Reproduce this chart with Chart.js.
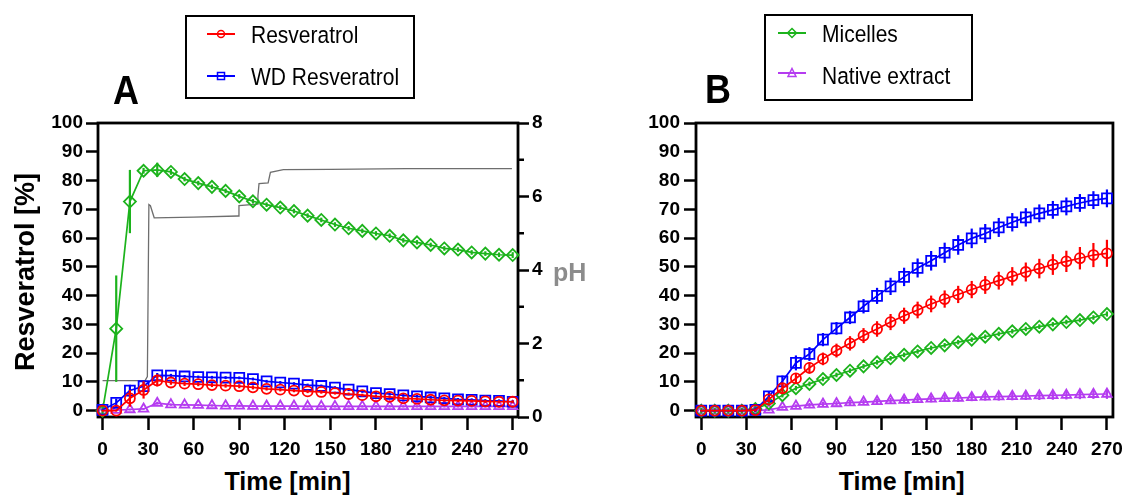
<!DOCTYPE html>
<html>
<head>
<meta charset="utf-8">
<script src="https://cdn.jsdelivr.net/npm/chart.js@4.4.1/dist/chart.umd.min.js"></script>
<style>
  body { margin: 0; background: #fff; width: 1131px; height: 497px; position: relative; overflow: hidden;
         font-family: "Liberation Sans", Arial, sans-serif; color: #000; }
  .abs { position: absolute; white-space: nowrap; }
  .legend { position: absolute; border: 2.5px solid #000; box-sizing: border-box; }
  .entry { position: absolute; white-space: nowrap; font-size: 21px; line-height: 24px; transform: scaleY(1.17); }
  .letter { position: absolute; font-size: 36px; font-weight: bold; line-height: 40px; transform: scaleY(1.15); }
  .xtitle { position: absolute; width: 200px; text-align: center; font-size: 25px; font-weight: bold; line-height: 30px; }
  canvas { position: absolute; }
</style>
</head>
<body>

<canvas id="chartA" width="570" height="360" style="left:0;top:100px"></canvas>
<canvas id="chartB" width="531" height="360" style="left:600px;top:100px"></canvas>

<div class="letter" style="left:113px;top:70px">A</div>
<div class="letter" style="left:705px;top:69px">B</div>

<div class="legend" style="left:185px;top:15px;width:230px;height:84px"></div>
<svg class="abs" style="left:207px;top:28px" width="28" height="12">
  <line x1="0" y1="6" x2="28" y2="6" stroke="#ff0000" stroke-width="2"/>
  <circle cx="14" cy="6" r="3.5" fill="none" stroke="#ff0000" stroke-width="1.5"/>
</svg>
<div class="entry" style="left:251px;top:23px">Resveratrol</div>
<svg class="abs" style="left:207px;top:70px" width="28" height="12">
  <line x1="0" y1="6" x2="28" y2="6" stroke="#0000ff" stroke-width="2"/>
  <rect x="10.5" y="2.5" width="7" height="7" fill="none" stroke="#0000ff" stroke-width="1.5"/>
</svg>
<div class="entry" style="left:251px;top:64.5px">WD Resveratrol</div>

<div class="legend" style="left:764px;top:14px;width:209px;height:87px"></div>
<svg class="abs" style="left:778px;top:27px" width="28" height="12">
  <line x1="0" y1="6" x2="28" y2="6" stroke="#1cb31c" stroke-width="2"/>
  <polygon points="14,1.5 18.5,6 14,10.5 9.5,6" fill="none" stroke="#1cb31c" stroke-width="1.5"/>
</svg>
<div class="entry" style="left:822px;top:22px">Micelles</div>
<svg class="abs" style="left:778px;top:67px" width="28" height="12">
  <line x1="0" y1="6" x2="28" y2="6" stroke="#b53cf0" stroke-width="2"/>
  <polygon points="14,1.5 18,9.5 10,9.5" fill="none" stroke="#b53cf0" stroke-width="1.5"/>
</svg>
<div class="entry" style="left:822px;top:63.5px">Native extract</div>

<div class="abs" style="left:-105px;top:256.5px;width:260px;height:30px;line-height:30px;text-align:center;font-size:27px;font-weight:bold;transform:rotate(-90deg)">Resveratrol [%]</div>
<div class="abs" style="left:553px;top:257px;font-size:25px;font-weight:bold;line-height:30px;color:#8c8c8c">pH</div>
<div class="xtitle" style="left:187.5px;top:465.5px">Time [min]</div>
<div class="xtitle" style="left:801.7px;top:465.5px">Time [min]</div>

<script>
// sampling times (min)
const timeMin = [0, 9, 18, 27, 36, 45, 54, 63, 72, 81, 90, 99, 108, 117, 126, 135, 144, 153, 162, 171, 180, 189, 198, 207, 216, 225, 234, 243, 252, 261, 270];

// tick labels
const xTicks = [0, 30, 60, 90, 120, 150, 180, 210, 240, 270];
const yTicks = [0, 10, 20, 30, 40, 50, 60, 70, 80, 90, 100];
const phTicks = [0, 2, 4, 6, 8];
const phMinorTicks = [1, 3, 5, 7];

// panel A - % resveratrol
const resA = [0, 0, 4.3, 7.2, 10.5, 9.8, 9.4, 9.2, 8.9, 8.7, 8.5, 8.1, 7.6, 7.3, 7.0, 6.7, 6.5, 6.1, 5.8, 5.4, 5.0, 4.8, 4.3, 4.1, 3.8, 3.6, 3.5, 3.4, 3.2, 3.1, 3.1];
const resAErr = [0.3, 0.3, 2.9, 3.0, 2.1, 0.8, 0.8, 0.7, 0.7, 0.7, 0.7, 0.7, 0.6, 0.6, 0.6, 0.6, 0.6, 0.5, 0.5, 0.5, 0.5, 0.5, 0.5, 0.5, 0.5, 0.5, 0.5, 0.5, 0.5, 0.5, 0.5];
const wdA = [0.3, 2.7, 7.0, 8.5, 12.3, 12.2, 11.9, 11.7, 11.6, 11.5, 11.4, 11.0, 10.2, 9.8, 9.4, 8.9, 8.6, 8.0, 7.3, 6.7, 6.1, 5.8, 5.3, 5.0, 4.6, 4.3, 3.9, 3.8, 3.5, 3.4, 3.1];
const wdAErr = [0.3, 1.5, 2.0, 1.5, 0.8, 0.6, 0.5, 0.5, 0.5, 0.5, 0.5, 0.5, 0.5, 0.5, 0.5, 0.5, 0.5, 0.5, 0.5, 0.5, 0.5, 0.5, 0.5, 0.5, 0.5, 0.5, 0.5, 0.5, 0.5, 0.5, 0.5];
const micA = [0, 28.5, 72.7, 83.4, 83.7, 83.0, 80.5, 79.1, 77.8, 76.4, 74.5, 72.8, 71.6, 70.6, 69.4, 67.8, 66.3, 64.7, 63.4, 62.5, 61.6, 60.8, 59.2, 58.5, 57.6, 56.4, 56.0, 55.0, 54.6, 54.2, 54.1];
const micAErr = [2.0, 18.5, 11.0, 1.0, 2.5, 1.0, 0.8, 0.8, 0.8, 0.8, 0.8, 0.8, 0.8, 0.8, 0.8, 0.8, 0.8, 0.8, 0.8, 0.8, 0.8, 0.8, 0.8, 0.8, 0.8, 0.8, 0.8, 0.8, 0.8, 0.8, 1.0];
const natA = [0, 0.2, 0.4, 0.6, 2.6, 2.1, 2.0, 1.9, 1.8, 1.7, 1.7, 1.6, 1.6, 1.6, 1.6, 1.5, 1.5, 1.5, 1.5, 1.5, 1.5, 1.5, 1.5, 1.5, 1.5, 1.5, 1.5, 1.5, 1.5, 1.5, 1.5];
const natAErr = [0.2, 0.2, 0.3, 0.3, 0.5, 0.4, 0.4, 0.4, 0.4, 0.4, 0.4, 0.4, 0.4, 0.4, 0.4, 0.4, 0.4, 0.4, 0.4, 0.4, 0.4, 0.4, 0.4, 0.4, 0.4, 0.4, 0.4, 0.4, 0.4, 0.4, 0.4];

// panel A - pH trace
const phTime = [0, 28, 29.5, 30.5, 31.5, 34, 60, 89.3, 89.8, 102, 102.3, 103, 109, 110.5, 119, 150, 200, 269.5];
const phValue = [0.99, 0.99, 1.1, 5.78, 5.75, 5.42, 5.44, 5.47, 5.75, 5.79, 6.02, 6.35, 6.37, 6.66, 6.73, 6.74, 6.76, 6.76];

// panel B - % resveratrol
const resB = [0, 0, 0, 0, 0.2, 3.9, 7.8, 11.2, 14.9, 18.0, 20.9, 23.4, 26.1, 28.4, 30.8, 33.0, 35.0, 37.1, 38.8, 40.4, 42.1, 43.7, 45.2, 46.7, 48.2, 49.4, 50.8, 51.9, 53.0, 54.1, 54.7];
const resBErr = [0.3, 0.3, 0.3, 0.3, 0.5, 1.0, 1.5, 1.8, 2.0, 2.2, 2.4, 2.5, 2.6, 2.7, 2.8, 2.8, 2.9, 2.9, 3.0, 3.0, 3.0, 3.1, 3.1, 3.2, 3.3, 3.4, 3.6, 3.7, 3.9, 4.2, 4.7];
const wdB = [0, 0, 0, 0, 0.3, 5.0, 10.2, 16.6, 19.7, 24.7, 28.6, 32.4, 36.3, 39.9, 43.2, 46.5, 49.6, 52.1, 54.9, 57.6, 59.9, 61.6, 63.7, 65.5, 67.2, 68.6, 69.8, 71.0, 72.2, 73.2, 73.8];
const wdBErr = [0.3, 0.3, 0.3, 0.3, 0.8, 1.5, 2.0, 2.6, 2.4, 2.3, 2.2, 2.3, 2.5, 2.8, 3.0, 3.2, 3.3, 3.4, 3.5, 3.4, 3.4, 3.3, 3.3, 3.2, 3.2, 3.1, 3.1, 3.1, 3.1, 3.1, 3.1];
const micB = [0, 0, 0, 0, 0.6, 2.5, 5.4, 7.8, 9.3, 11.0, 12.4, 13.9, 15.4, 16.8, 18.2, 19.4, 20.6, 21.8, 22.7, 23.8, 24.7, 25.7, 26.7, 27.6, 28.4, 29.2, 30.0, 30.8, 31.5, 32.4, 33.6];
const micBErr = [1.0, 1.0, 1.0, 1.0, 1.0, 0.8, 0.8, 0.8, 0.8, 0.8, 0.8, 0.8, 0.8, 0.8, 0.8, 0.8, 0.8, 0.8, 0.8, 0.8, 0.8, 0.8, 0.8, 0.8, 0.8, 0.8, 0.8, 0.8, 0.8, 0.8, 0.9];
const natB = [0, 0, 0, 0, 0.1, 0.3, 1.2, 1.6, 2.0, 2.3, 2.5, 2.8, 3.0, 3.2, 3.5, 3.7, 3.9, 4.1, 4.3, 4.4, 4.6, 4.8, 4.9, 5.0, 5.1, 5.2, 5.3, 5.4, 5.6, 5.7, 5.8];
const natBErr = [0.2, 0.2, 0.2, 0.2, 0.3, 0.4, 0.5, 0.6, 0.7, 0.8, 0.8, 0.9, 0.9, 1.0, 1.0, 1.1, 1.1, 1.2, 1.2, 1.3, 1.3, 1.3, 1.4, 1.4, 1.4, 1.5, 1.5, 1.5, 1.6, 1.6, 1.7];

const RED = "#ff0000";
const BLUE = "#0000ff";
const GREEN = "#1cb31c";
const PURPLE = "#b53cf0";
const FONT = "'Liberation Sans', Arial, sans-serif";

function series(label, values, errors, color, style, radius) {
  return {
    label: label,
    data: timeMin.map((t, i) => ({ x: t, y: values[i] })),
    errors: errors,
    borderColor: color,
    backgroundColor: "transparent",
    borderWidth: 1.7,
    pointStyle: style,
    pointRadius: radius,
    pointBorderWidth: 1.8,
    pointBorderColor: color,
    pointBackgroundColor: "transparent",
    tension: 0,
    clip: false,
    yAxisID: "y",
  };
}

// vertical error bars, drawn through the value scale
const errorBars = {
  id: "errorBars",
  afterDatasetDraw(chart, args) {
    const ds = chart.data.datasets[args.index];
    if (!ds.errors) return;
    const ctx = chart.ctx;
    const yScale = chart.scales[ds.yAxisID];
    ctx.save();
    ctx.strokeStyle = ds.borderColor;
    ctx.lineWidth = 2.2;
    args.meta.data.forEach((pt, i) => {
      const v = ds.data[i].y;
      const e = ds.errors[i];
      ctx.beginPath();
      ctx.moveTo(pt.x, yScale.getPixelForValue(v - e));
      ctx.lineTo(pt.x, yScale.getPixelForValue(v + e));
      ctx.stroke();
    });
    ctx.restore();
  },
};

// box round the plot area
const frame = {
  id: "frame",
  beforeDatasetsDraw(chart) {
    const { ctx, chartArea: a } = chart;
    ctx.save();
    ctx.strokeStyle = "#000";
    ctx.lineWidth = 2.8;
    ctx.strokeRect(a.left, a.top, a.right - a.left, a.bottom - a.top);
    ctx.restore();
  },
};

// short unlabelled ticks on the pH axis
const phMinor = {
  id: "phMinor",
  afterDraw(chart) {
    const s = chart.scales.yPh;
    if (!s) return;
    const ctx = chart.ctx;
    ctx.save();
    ctx.strokeStyle = "#000";
    ctx.lineWidth = 2.5;
    phMinorTicks.forEach((v) => {
      const y = s.getPixelForValue(v);
      ctx.beginPath();
      ctx.moveTo(s.left, y);
      ctx.lineTo(s.left + 6, y);
      ctx.stroke();
    });
    ctx.restore();
  },
};

const tickFont = { family: FONT, size: 19, weight: "bold" };

function gridOpts(len) {
  return { drawOnChartArea: false, drawTicks: true, tickLength: len, tickWidth: 2.5, tickColor: "#000" };
}

function xScale(min, max) {
  return {
    type: "linear",
    min: min,
    max: max,
    afterBuildTicks: (s) => { s.ticks = xTicks.map((v) => ({ value: v })); },
    afterFit: (s) => { s.height = 43; },
    grid: gridOpts(13),
    border: { display: false },
    ticks: { font: tickFont, color: "#000", padding: 8, maxRotation: 0, autoSkip: false },
  };
}

function yScale(width, pad) {
  return {
    min: -2.2,
    max: 100,
    afterBuildTicks: (s) => { s.ticks = yTicks.map((v) => ({ value: v })); },
    afterFit: (s) => { s.width = width; },
    grid: gridOpts(12),
    border: { display: false },
    ticks: { font: tickFont, color: "#000", padding: pad, autoSkip: false },
  };
}

function baseOptions(scales, padding) {
  return {
    responsive: false,
    animation: false,
    layout: { padding: padding },
    scales: scales,
    plugins: {
      legend: { display: false },
      tooltip: { enabled: false },
    },
  };
}

new Chart(document.getElementById("chartA"), {
  type: "line",
  data: {
    datasets: [
      series("Resveratrol", resA, resAErr, RED, "circle", 5),
      series("WD Resveratrol", wdA, wdAErr, BLUE, "rect", 7),
      series("Micelles", micA, micAErr, GREEN, "rectRot", 6),
      series("Native extract", natA, natAErr, PURPLE, "triangle", 5.5),
      {
        label: "pH",
        data: phTime.map((t, i) => ({ x: t, y: phValue[i] })),
        borderColor: "#6e6e6e",
        borderWidth: 1.3,
        pointRadius: 0,
        tension: 0,
        yAxisID: "yPh",
      },
    ],
  },
  options: baseOptions({
    x: xScale(-3, 273.5),
    y: yScale(98, 3),
    yPh: {
      position: "right",
      min: 0,
      max: 8,
      afterBuildTicks: (s) => { s.ticks = phTicks.map((v) => ({ value: v })); },
      afterFit: (s) => { s.width = 52; },
      grid: gridOpts(11),
      border: { display: false },
      ticks: { font: tickFont, color: "#000", padding: 3 },
    },
  }, { top: 23, left: 0, right: 0, bottom: 0 }),
  plugins: [frame, errorBars, phMinor],
});

new Chart(document.getElementById("chartB"), {
  type: "line",
  data: {
    datasets: [
      series("Resveratrol", resB, resBErr, RED, "circle", 5),
      series("WD Resveratrol", wdB, wdBErr, BLUE, "rect", 7),
      series("Micelles", micB, micBErr, GREEN, "rectRot", 6),
      series("Native extract", natB, natBErr, PURPLE, "triangle", 5.5),
    ],
  },
  options: baseOptions({
    x: xScale(-3.5, 274),
    y: yScale(96, 4),
  }, { top: 23, left: 0, right: 15, bottom: 0 }),
  plugins: [frame, errorBars],
});
</script>
</body>
</html>
